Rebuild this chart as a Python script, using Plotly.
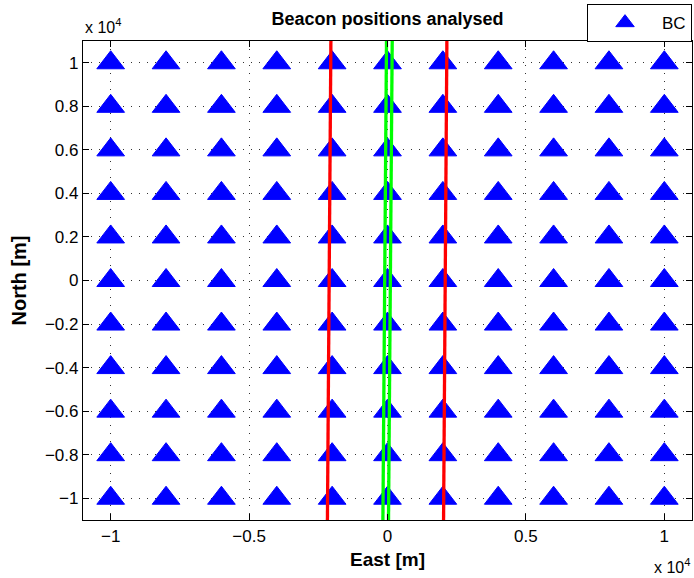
import plotly.graph_objects as go

# Data
east_grid = [-10000, -8000, -6000, -4000, -2000, 0, 2000, 4000, 6000, 8000, 10000]
north_grid = [-10000, -8000, -6000, -4000, -2000, 0, 2000, 4000, 6000, 8000, 10000]

# corridor boundary lines (east at bottom / top of view)
line_north = [-11000, 11000]
red_left_east = [-2170, -2045]
red_right_east = [2025, 2145]
green_left_east = [-166, -36]
green_right_east = [36, 170]

x_tickvals = [-10000, -5000, 0, 5000, 10000]
x_ticktext = ["\u22121", "\u22120.5", "0", "0.5", "1"]
y_tickvals = [-10000, -8000, -6000, -4000, -2000, 0, 2000, 4000, 6000, 8000, 10000]
y_ticktext = ["\u22121", "\u22120.8", "\u22120.6", "\u22120.4", "\u22120.2", "0",
              "0.2", "0.4", "0.6", "0.8", "1"]

bx = [e for n in north_grid for e in east_grid]
by = [n for n in north_grid for e in east_grid]

fig = go.Figure()
fig.add_trace(go.Scatter(
    x=bx, y=by, mode="markers", name="BC",
    marker=dict(symbol="triangle-up", size=24, color="#0000ff",
                line=dict(color="#0000ff", width=1)),
    cliponaxis=False,
))
for xs, col in [(red_left_east, "#ff0000"), (red_right_east, "#ff0000"),
                (green_left_east, "#00ff00"), (green_right_east, "#00ff00")]:
    fig.add_trace(go.Scatter(x=xs, y=line_north, mode="lines",
                             line=dict(color=col, width=3.3),
                             showlegend=False, hoverinfo="skip"))

font = "Liberation Sans, Arial, Helvetica, sans-serif"
axis_common = dict(
    showgrid=True, gridcolor="#333333", griddash="1px,7px", gridwidth=1,
    zeroline=False, showline=True, linecolor="black", linewidth=1.3,
    mirror="ticks", ticks="inside", ticklen=6, tickcolor="black",
    tickfont=dict(family=font, size=17, color="black"),
)
fig.update_layout(
    width=694, height=578,
    margin=dict(l=83, r=2, t=41, b=58),
    paper_bgcolor="white", plot_bgcolor="white",
    font=dict(family=font, color="black"),
    title=dict(text="<b>Beacon positions analysed</b>", x=0.5, xref="paper",
               y=1 - 19 / 578, yref="container", yanchor="middle",
               font=dict(family=font, size=18, color="black")),
    xaxis=dict(range=[-11000, 11000], tickvals=x_tickvals, ticktext=x_ticktext,
               title=dict(text="<b>East [m]</b>", font=dict(family=font, size=19), standoff=8),
               **axis_common),
    yaxis=dict(range=[-11000, 11000], tickvals=y_tickvals, ticktext=y_ticktext,
               title=dict(text="<b>North [m]</b>", font=dict(family=font, size=20), standoff=12),
               **axis_common),
    legend=dict(x=1, xanchor="right", y=1.077, yanchor="top",
                bordercolor="black", borderwidth=1, bgcolor="white",
                font=dict(family=font, size=17, color="black"),
                itemwidth=64),
    showlegend=True,
)
fig.add_annotation(text="x 10<sup>4</sup>", xref="paper", yref="paper", x=0, y=1,
                   xanchor="left", yanchor="bottom", yshift=3, showarrow=False,
                   font=dict(family=font, size=16, color="black"))
fig.add_annotation(text="x 10<sup>4</sup>", xref="paper", yref="paper", x=1, y=0,
                   xanchor="right", yanchor="top", yshift=-34, showarrow=False,
                   font=dict(family=font, size=16, color="black"))
fig.write_html("out.html")
